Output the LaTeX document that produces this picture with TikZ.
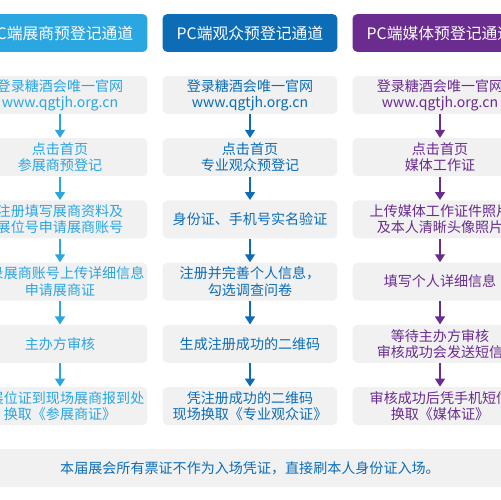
\documentclass[tikz,border=0pt]{standalone}
\usepackage{fontspec}
\newfontfamily\cjk{Noto Sans CJK SC}
\usetikzlibrary{positioning, arrows.meta}

\definecolor{expoblue}{HTML}{2AA6E0}
\definecolor{visitblue}{HTML}{0C6DB6}
\definecolor{mediapurple}{HTML}{6A2C8F}
\definecolor{boxgrey}{HTML}{F1F1F1}

\begin{document}
\begin{tikzpicture}[
    x=0.02cm, y=-0.02cm,
    headbox/.style={rounded corners=0.1cm, minimum width=3.5cm, minimum height=0.76cm, inner sep=0pt, text=white, font=\cjk\fontsize{9}{11}\selectfont},
    stepbox/.style={fill=boxgrey, rounded corners=0.1cm, minimum width=3.5cm, minimum height=0.76cm, inner sep=0pt, align=center, font=\cjk\fontsize{8}{9.2}\selectfont},
    flow/.style={-{Triangle[width=0.2cm, length=0.16cm]}, line width=0.8pt}
]
    \useasboundingbox (0,0) rectangle (500,500);

    % Column headers
    \node[headbox, fill=expoblue] (expohead) at (60,33) {PC端展商预登记通道};
    \node[headbox, fill=visitblue] (visithead) at (250,33) {PC端观众预登记通道};
    \node[headbox, fill=mediapurple] (mediahead) at (440,33) {PC端媒体预登记通道};

    % Exhibitor steps
    \foreach \txt [count=\i] in {{登录糖酒会唯一官网\\www.qgtjh.org.cn}, {点击首页\\参展商预登记}, {注册填写展商资料及\\展位号申请展商账号}, {登录展商账号上传详细信息\\申请展商证}, {主办方审核}, {凭展位证到现场展商报到处\\换取《参展商证》}} {
        \node[stepbox, text=expoblue] (expo\i) at (60,{95+62.2*(\i-1)}) {\txt};
    }

    % Visitor steps
    \foreach \txt [count=\i] in {{登录糖酒会唯一官网\\www.qgtjh.org.cn}, {点击首页\\专业观众预登记}, {身份证、手机号实名验证}, {注册并完善个人信息，\\勾选调查问卷}, {生成注册成功的二维码}, {凭注册成功的二维码\\现场换取《专业观众证》}} {
        \node[stepbox, text=visitblue] (visit\i) at (250,{95+62.2*(\i-1)}) {\txt};
    }

    % Media steps
    \foreach \txt [count=\i] in {{登录糖酒会唯一官网\\www.qgtjh.org.cn}, {点击首页\\媒体工作证}, {上传媒体工作证件照片\\及本人清晰头像照片}, {填写个人详细信息}, {等待主办方审核\\审核成功会发送短信}, {审核成功后凭手机短信\\换取《媒体证》}} {
        \node[stepbox, text=mediapurple] (media\i) at (440,{95+62.2*(\i-1)}) {\txt};
    }

    % Arrows between steps
    \foreach \i/\j in {1/2, 2/3, 3/4, 4/5, 5/6} {
        \draw[flow, expoblue] (expo\i.south) -- (expo\j.north);
        \draw[flow, visitblue] (visit\i.south) -- (visit\j.north);
        \draw[flow, mediapurple] (media\i.south) -- (media\j.north);
    }

    % Note at the bottom
    \node[stepbox, minimum width=10.4cm, text=visitblue] (note) at (250,468) {本届展会所有票证不作为入场凭证，直接刷本人身份证入场。};

\end{tikzpicture}
\end{document}
